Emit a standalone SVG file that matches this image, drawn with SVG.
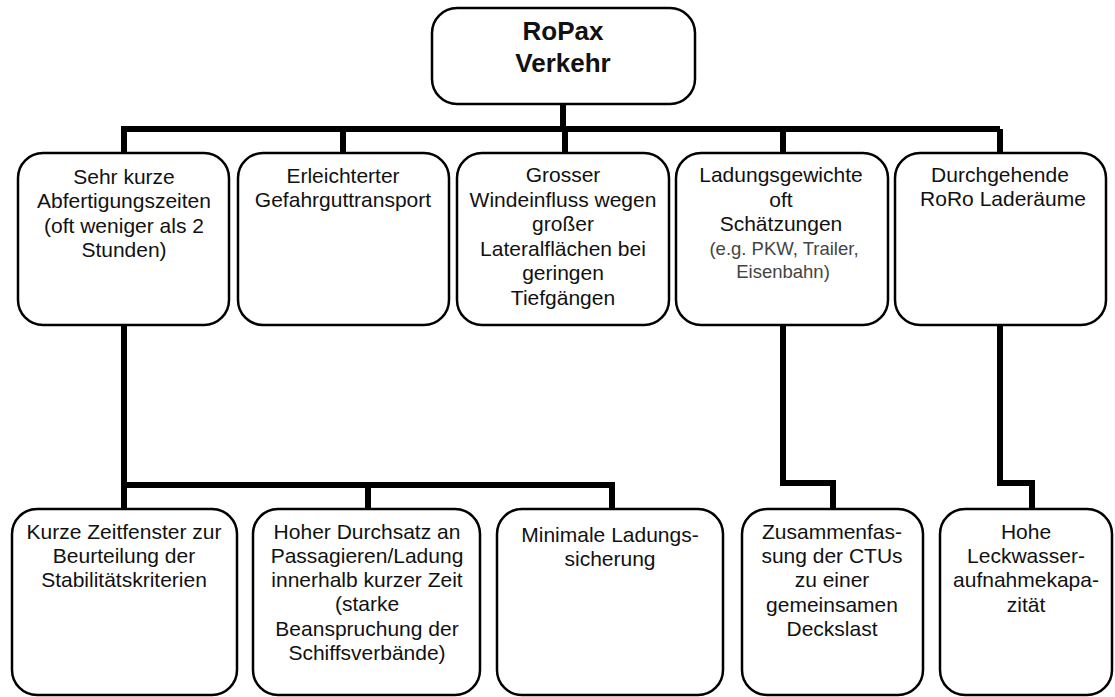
<svg xmlns="http://www.w3.org/2000/svg" width="1115" height="697" viewBox="0 0 1115 697">
<style>
.box{fill:#fff;stroke:#000;stroke-width:2.5}
.con{fill:none;stroke:#000;stroke-width:6;stroke-linejoin:miter}
text{font-family:"Liberation Sans",Arial,sans-serif;font-size:21px;fill:#111;text-anchor:middle}
.root{font-size:26px;font-weight:bold}
.small{font-size:18.5px;fill:#444}
</style>
<rect width="1115" height="697" fill="#fff"/>
<g id="connectors">
<path class="con" d="M563 104V129"/>
<path class="con" d="M124 129H1000"/>
<path class="con" d="M124 126V153M343 129V153M565 129V153M783 129V153M1000 129V153"/>
<path class="con" d="M124 325V485H612V509M124 485V509M368 485V509"/>
<path class="con" d="M783 325V483H833V509"/>
<path class="con" d="M1000 325V483H1032V509"/>
</g>
<g id="root">
<rect class="box" x="432" y="8" width="263" height="96" rx="25"/>
<text class="root" x="563" y="40">RoPax</text>
<text class="root" x="563" y="72">Verkehr</text>
</g>
<g id="n1">
<rect class="box" x="18" y="153" width="211" height="172" rx="25"/>
<text x="124" y="184">Sehr kurze</text>
<text x="124" y="208">Abfertigungszeiten</text>
<text x="124" y="233">(oft weniger als 2</text>
<text x="124" y="257">Stunden)</text>
</g>
<g id="n2">
<rect class="box" x="238" y="153" width="211" height="172" rx="25"/>
<text x="343" y="183">Erleichterter</text>
<text x="343" y="207">Gefahrguttransport</text>
</g>
<g id="n3">
<rect class="box" x="457" y="153" width="212" height="172" rx="25"/>
<text x="563" y="182">Grosser</text>
<text x="563" y="207">Windeinfluss wegen</text>
<text x="563" y="231">großer</text>
<text x="563" y="256">Lateralflächen bei</text>
<text x="563" y="280">geringen</text>
<text x="563" y="305">Tiefgängen</text>
</g>
<g id="n4">
<rect class="box" x="676" y="153" width="212" height="172" rx="25"/>
<text x="781" y="182">Ladungsgewichte</text>
<text x="781" y="207">oft</text>
<text x="781" y="231">Schätzungen</text>
<text class="small" x="784" y="255">(e.g. PKW, Trailer,</text>
<text class="small" x="783" y="278">Eisenbahn)</text>
</g>
<g id="n5">
<rect class="box" x="895" y="153" width="211" height="172" rx="25"/>
<text x="1000" y="182">Durchgehende</text>
<text x="1003" y="206">RoRo Laderäume</text>
</g>
<g id="c1">
<rect class="box" x="12" y="509" width="225" height="186" rx="25"/>
<text x="124" y="539">Kurze Zeitfenster zur</text>
<text x="124" y="563">Beurteilung der</text>
<text x="124" y="587">Stabilitätskriterien</text>
</g>
<g id="c2">
<rect class="box" x="253" y="509" width="227" height="186" rx="25"/>
<text x="367" y="539">Hoher Durchsatz an</text>
<text x="367" y="563">Passagieren/Ladung</text>
<text x="367" y="587">innerhalb kurzer Zeit</text>
<text x="367" y="611">(starke</text>
<text x="367" y="636">Beanspruchung der</text>
<text x="367" y="660">Schiffsverbände)</text>
</g>
<g id="c3">
<rect class="box" x="497" y="509" width="226" height="186" rx="25"/>
<text x="610" y="542">Minimale Ladungs-</text>
<text x="610" y="566">sicherung</text>
</g>
<g id="c4">
<rect class="box" x="742" y="509" width="181" height="186" rx="25"/>
<text x="832" y="539">Zusammenfas-</text>
<text x="832" y="563">sung der CTUs</text>
<text x="832" y="587">zu einer</text>
<text x="832" y="612">gemeinsamen</text>
<text x="832" y="636">Deckslast</text>
</g>
<g id="c5">
<rect class="box" x="940" y="509" width="172" height="186" rx="25"/>
<text x="1026" y="539">Hohe</text>
<text x="1026" y="563">Leckwasser-</text>
<text x="1026" y="587">aufnahmekapa-</text>
<text x="1026" y="612">zität</text>
</g>
</svg>
